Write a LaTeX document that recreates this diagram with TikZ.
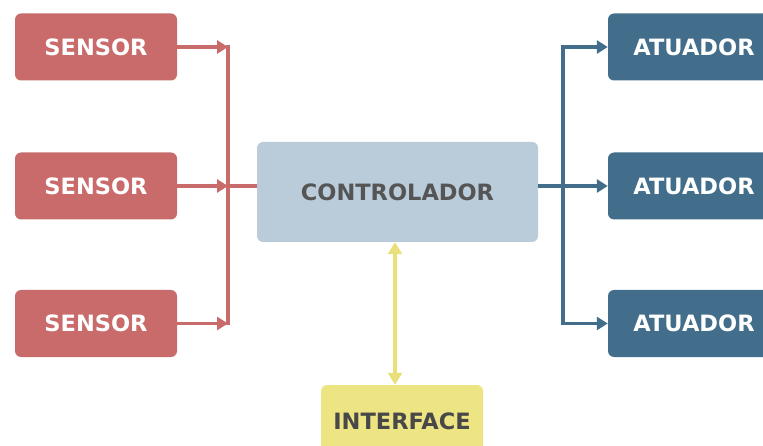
\documentclass[tikz,border=0pt]{standalone}
\usepackage{fontspec}
\setmainfont{DejaVu Sans}
\usetikzlibrary{arrows.meta}
\definecolor{sensorred}{HTML}{C96B6B}
\definecolor{actblue}{HTML}{426E8B}
\definecolor{ctrlblue}{HTML}{BACCDA}
\definecolor{ifyellow}{HTML}{EDE483}
\definecolor{ifline}{HTML}{E9E07C}
\definecolor{darktext}{HTML}{555555}
\begin{document}
\begin{tikzpicture}[x=1pt,y=-1pt,
  box/.style={rounded corners=6pt, inner sep=0pt, font=\bfseries\fontsize{22.5}{26}\selectfont},
  sensorbox/.style={box, fill=sensorred, text=white, minimum width=162pt, minimum height=67pt},
  actbox/.style={box, fill=actblue, text=white, minimum width=172pt, minimum height=67pt},
  ctrlbox/.style={box, fill=ctrlblue, text=darktext, minimum width=281pt, minimum height=100pt},
  ifbox/.style={box, fill=ifyellow, text=darktext!85!black, minimum width=162pt, minimum height=72pt},
  redwire/.style={draw=sensorred, line width=3.6pt},
  bluewire/.style={draw=actblue, line width=3.6pt},
  yellowwire/.style={draw=ifline, line width=3.4pt},
  tip/.style={-{Triangle[length=11pt,width=13pt]}},
  dtip/.style={{Triangle[length=12pt,width=14pt]}-{Triangle[length=12pt,width=14pt]}}
]
\useasboundingbox (0,0) rectangle (763,446);
\clip (0,0) rectangle (763,446);

% sensors
\node[sensorbox] (s1) at (96,47) {SENSOR};
\node[sensorbox] (s2) at (96,186) {SENSOR};
\node[sensorbox] (s3) at (96,323.5) {SENSOR};

% controller
\node[ctrlbox] (ctrl) at (397.5,192) {CONTROLADOR};

% actuators
\node[actbox] (a1) at (694,47) {ATUADOR};
\node[actbox] (a2) at (694,186) {ATUADOR};
\node[actbox] (a3) at (694,323.5) {ATUADOR};

% interface
\node[ifbox] (if) at (402,421) {INTERFACE};

% junction points
\coordinate (rj) at (228,186);
\coordinate (bj) at (563,186);

% sensor bus
\draw[redwire, line cap=rect] (s1.east -| rj) -- (s3.east -| rj);
\draw[redwire,tip] (s1.east) -- (s1.east -| rj);
\draw[redwire,tip] (s2.east) -- (rj);
\draw[redwire,tip] (s3.east) -- (s3.east -| rj);
\draw[redwire] (rj) -- (ctrl.west |- rj);

% actuator bus
\draw[bluewire] (ctrl.east |- bj) -- (bj);
\draw[bluewire, line cap=rect] (a1.west -| bj) -- (a3.west -| bj);
\draw[bluewire,tip] (a1.west -| bj) -- (a1.west);
\draw[bluewire,tip] (bj) -- (a2.west);
\draw[bluewire,tip] (a3.west -| bj) -- (a3.west);

% interface link
\draw[yellowwire,dtip]
  ([xshift=-7pt]if.north) -- ([xshift=-7pt]if.north |- ctrl.south);
\end{tikzpicture}
\end{document}
